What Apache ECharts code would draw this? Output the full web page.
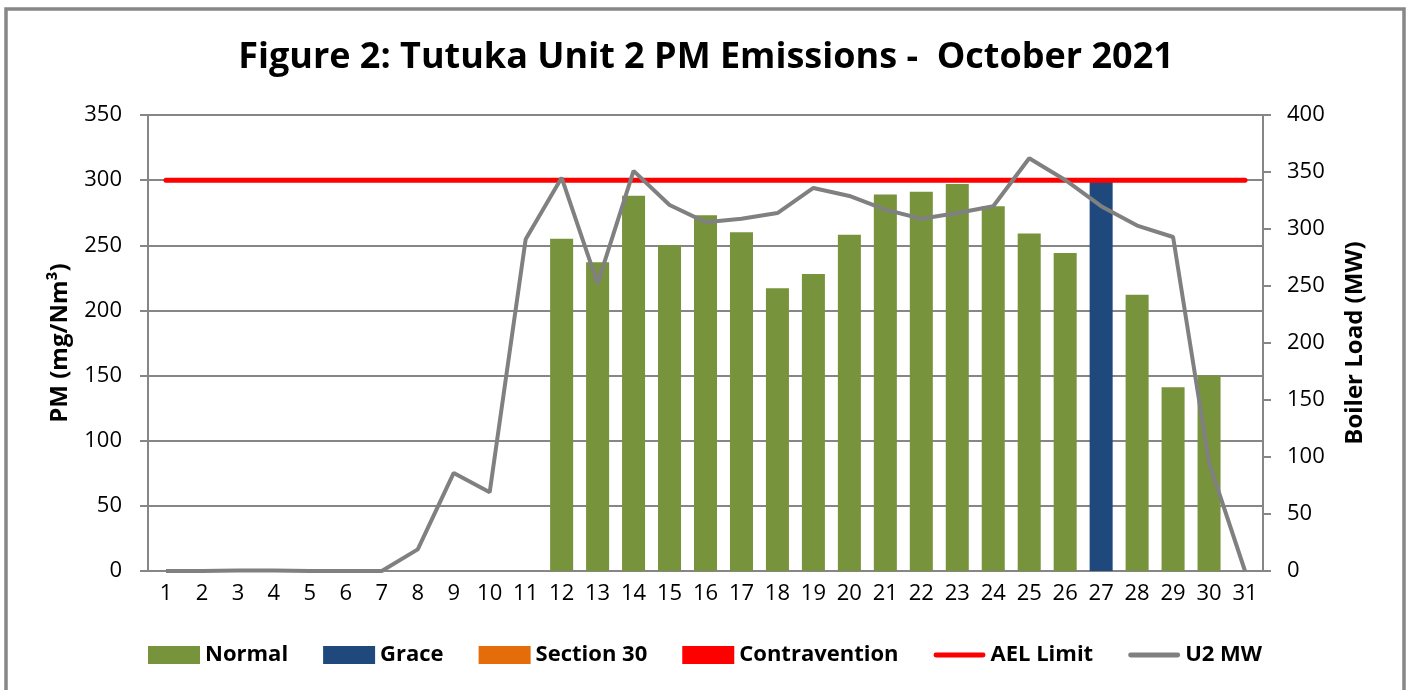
<!DOCTYPE html>
<html>
<head>
<meta charset="utf-8">
<script src="https://cdn.jsdelivr.net/npm/echarts@6/dist/echarts.min.js"></script>
<style>
  html, body { margin: 0; padding: 0; background: #fff; }
  #chart { width: 1412px; height: 690px; }
</style>
</head>
<body>
<div id="chart"></div>
<script>
// days of October 2021
const days = [];
for (let d = 1; d <= 31; d++) days.push(String(d));

// PM (mg/Nm3) per day, split by status
const normal = [null, null, null, null, null, null, null, null, null, null, null,
    255, 237, 288, 250, 273, 260, 217, 228, 258, 289, 291, 297, 280, 259, 244,
    null, 212, 141, 150, null];
const grace = [null, null, null, null, null, null, null, null, null, null, null,
    null, null, null, null, null, null, null, null, null, null, null, null, null, null, null,
    299, null, null, null, null];
const section30 = days.map(() => null);
const contravention = days.map(() => null);

// emission limit
const aelLimit = days.map(() => 300);

// unit 2 boiler load (MW)
const u2MW = [0, 0, 0.5, 0.5, 0, 0, 0, 19, 86, 69, 291, 345, 252, 351, 321, 306,
    309, 314, 336, 329, 317, 309, 314, 320, 362, 343, 320, 303, 293, 95, 0];

const leftTicks = { min: 0, max: 350, interval: 50 };
const rightTicks = { min: 0, max: 400, interval: 50 };

const tickFont = { fontFamily: 'Open Sans', fontSize: 22, color: '#000' };
const nameFont = { fontFamily: 'Open Sans', fontWeight: 'bold', fontSize: 24, color: '#000' };
const gray = '#868686';
const lineIcon = 'path://M2,0 L50,0 A2.5,2.5 0 0 1 50,5 L2,5 A2.5,2.5 0 0 1 2,0 Z';

const chart = echarts.init(document.getElementById('chart'));

chart.setOption({
    animation: false,
    graphic: [{
        type: 'rect',
        shape: { x: 6, y: 9, width: 1398, height: 720 },
        style: { fill: 'none', stroke: '#878787', lineWidth: 3.5 },
        z: 100
    }],
    title: {
        text: 'Figure 2: Tutuka Unit 2 PM Emissions -  October 2021',
        left: 'center',
        top: 35,
        textStyle: { fontFamily: 'Open Sans', fontWeight: 'bold', fontSize: 36, color: '#000' }
    },
    legend: {
        left: 148,
        top: 644,
        padding: 0,
        itemWidth: 52,
        itemHeight: 18,
        itemGap: 35,
        textStyle: { fontFamily: 'Open Sans', fontWeight: 'bold', fontSize: 22, color: '#000' },
        data: [
            { name: 'Normal', icon: 'rect' },
            { name: 'Grace', icon: 'rect' },
            { name: 'Section 30', icon: 'rect' },
            { name: 'Contravention', icon: 'rect' },
            { name: 'AEL Limit', icon: lineIcon },
            { name: 'U2 MW', icon: lineIcon }
        ]
    },
    grid: { left: 148, right: 149, top: 115, bottom: 119 },
    xAxis: {
        type: 'category',
        data: days,
        axisLine: { lineStyle: { color: gray, width: 2 } },
        axisTick: { show: false },
        axisLabel: Object.assign({ margin: 12 }, tickFont)
    },
    yAxis: [{
        type: 'value',
        name: 'PM (mg/Nm³)',
        nameLocation: 'middle',
        nameGap: 76,
        nameTextStyle: nameFont,
        min: leftTicks.min, max: leftTicks.max, interval: leftTicks.interval,
        axisLine: { show: true, lineStyle: { color: gray, width: 2 } },
        axisTick: { show: true, length: 8, lineStyle: { color: gray, width: 2 } },
        splitLine: { lineStyle: { color: gray, width: 2 } },
        axisLabel: Object.assign({ margin: 26 }, tickFont)
    }, {
        type: 'value',
        name: 'Boiler Load (MW)',
        nameLocation: 'middle',
        nameGap: 80,
        nameRotate: 90,
        nameTextStyle: nameFont,
        min: rightTicks.min, max: rightTicks.max, interval: rightTicks.interval,
        axisLine: { show: true, lineStyle: { color: gray, width: 2 } },
        axisTick: { show: true, length: 8, lineStyle: { color: gray, width: 2 } },
        splitLine: { show: false },
        axisLabel: Object.assign({ margin: 24 }, tickFont)
    }],
    series: [
        { name: 'Normal', type: 'bar', stack: 'pm', data: normal, barWidth: '64%', itemStyle: { color: '#77933C' } },
        { name: 'Grace', type: 'bar', stack: 'pm', data: grace, itemStyle: { color: '#1F497D' } },
        { name: 'Section 30', type: 'bar', stack: 'pm', data: section30, itemStyle: { color: '#E46C0A' } },
        { name: 'Contravention', type: 'bar', stack: 'pm', data: contravention, itemStyle: { color: '#FF0000' } },
        { name: 'AEL Limit', type: 'line', data: aelLimit, symbol: 'none', z: 5,
          lineStyle: { color: '#FF0000', width: 5, cap: 'round' }, itemStyle: { color: '#FF0000' } },
        { name: 'U2 MW', type: 'line', yAxisIndex: 1, data: u2MW, symbol: 'none', z: 6,
          lineStyle: { color: '#808080', width: 4 }, itemStyle: { color: '#808080' } }
    ]
});
</script>
</body>
</html>
